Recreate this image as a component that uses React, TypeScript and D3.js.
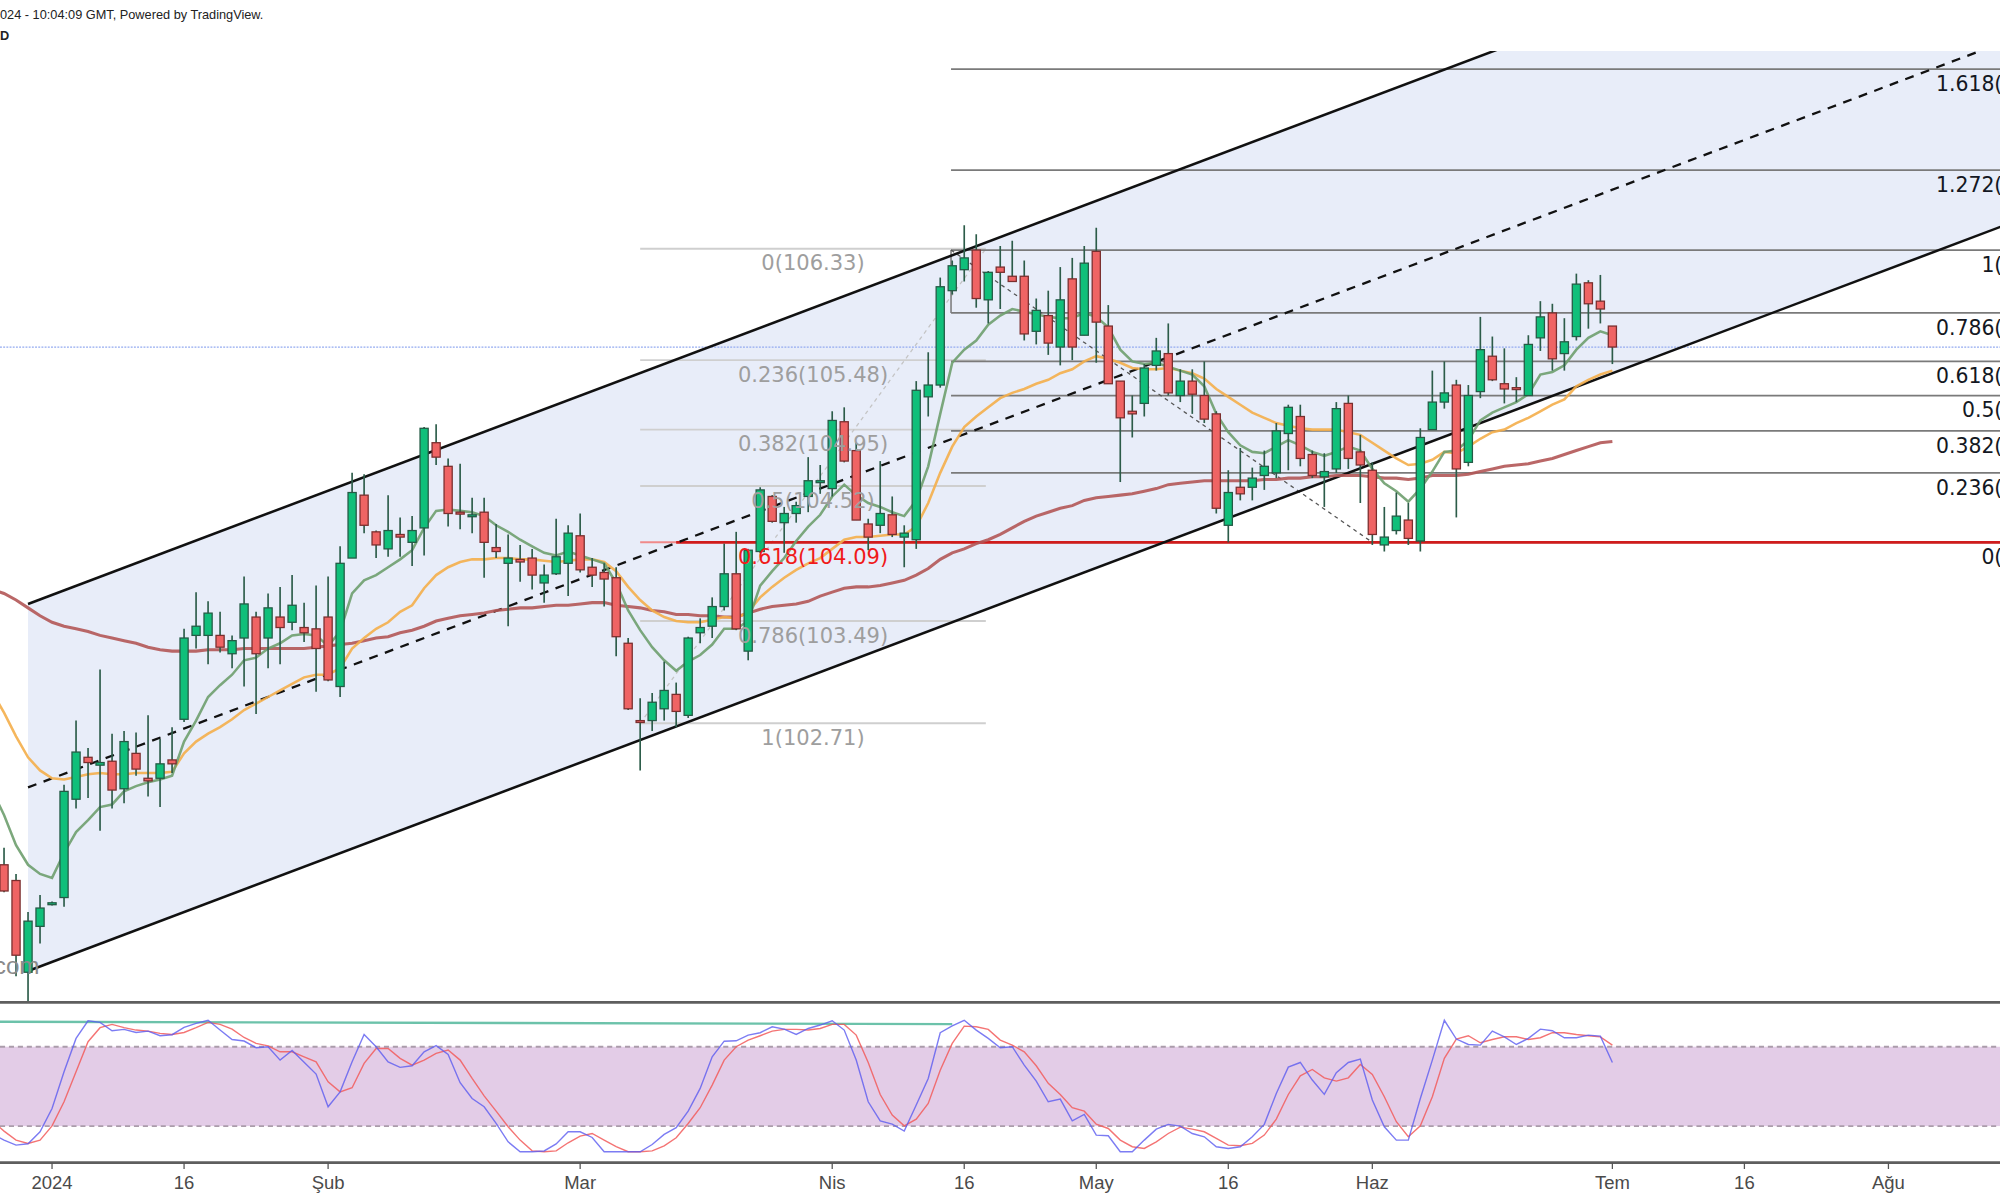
import React from 'react';
import * as d3 from 'd3';

const W = 1568;
const H = 940.8;

// daily bars, index 0 = first bar of 2024
const FIRST = -4;
const opens = [
  101.63, 101.51, 100.81, 101.16, 101.33, 101.38, 102.13, 102.45, 102.39, 102.42,
  102.21, 102.48, 102.29, 102.29, 102.43, 102.74, 103.38, 103.38, 103.38, 103.24,
  103.36, 103.52, 103.36, 103.52, 103.48, 103.44, 103.43, 103.52, 102.99, 103.97,
  104.45, 104.17, 104.04, 104.15, 104.09, 104.2, 104.85, 104.67, 104.32, 104.29,
  104.32, 104.05, 103.93, 103.96, 103.97, 103.78, 103.85, 103.93, 104.14, 103.9,
  103.86, 103.82, 103.32, 102.73, 102.73, 102.82, 102.93, 102.77, 103.4, 103.45,
  103.6, 103.85, 103.26, 104.02, 104.44, 104.24, 104.31, 104.44, 104.55, 104.5,
  105.01, 104.79, 104.23, 104.22, 104.3, 104.13, 104.11, 105.2, 105.29, 106.01,
  106.17, 106.32, 105.94, 106.19, 106.12, 106.12, 105.7, 105.82, 105.58, 106.1,
  105.67, 106.31, 105.74, 105.32, 105.09, 105.15, 105.44, 105.53, 105.21, 105.32,
  105.21, 105.07, 104.22, 104.51, 104.51, 104.6, 104.62, 104.92, 105.05, 104.76,
  104.59, 104.65, 105.15, 104.78, 104.64, 104.07, 104.18, 104.26, 104.1, 104.95,
  105.16, 105.29, 104.7, 105.24, 105.51, 105.3, 105.27, 105.21, 105.65, 105.84,
  105.53, 105.66, 106.07, 105.93, 105.74,
];
const highs = [
  101.76, 101.56, 101.27, 101.4, 101.35, 102.24, 102.73, 102.52, 103.12, 102.63,
  102.65, 102.64, 102.77, 102.59, 102.68, 103.43, 103.71, 103.64, 103.56, 103.38,
  103.83, 103.56, 103.7, 103.75, 103.84, 103.63, 103.76, 103.83, 104.06, 104.62,
  104.61, 104.18, 104.45, 104.28, 104.29, 104.97, 104.99, 104.73, 104.69, 104.43,
  104.43, 104.23, 104.15, 104.07, 104.04, 103.92, 104.27, 104.22, 104.31, 103.97,
  103.93, 103.9, 103.36, 102.9, 102.94, 103.18, 103.02, 103.37, 103.51, 103.67,
  104.08, 104.17, 104.04, 104.51, 104.45, 104.36, 104.4, 104.74, 104.68, 105.09,
  105.12, 104.85, 104.27, 104.71, 104.44, 104.22, 105.32, 105.54, 106.11, 106.24,
  106.51, 106.44, 106.16, 106.35, 106.39, 106.24, 105.95, 106.01, 106.19, 106.26,
  106.35, 106.49, 105.9, 105.32, 105.21, 105.45, 105.65, 105.76, 105.41, 105.41,
  105.47, 105.09, 104.64, 104.81, 104.66, 104.79, 105.0, 105.14, 105.14, 104.79,
  104.77, 105.16, 105.21, 104.91, 104.7, 104.36, 104.47, 104.39, 104.96, 105.4,
  105.47, 105.33, 105.29, 105.81, 105.66, 105.57, 105.35, 105.67, 105.93, 105.91,
  105.8, 106.14, 106.09, 106.13, 105.74,
];
const lows = [
  101.42, 100.78, 100.55, 101.03, 101.32, 101.31, 102.06, 102.14, 101.89, 102.06,
  102.1, 102.31, 102.15, 102.07, 102.33, 102.72, 103.28, 103.16, 103.25, 103.13,
  102.99, 102.78, 103.13, 103.16, 103.42, 103.33, 102.95, 103.03, 102.91, 103.97,
  104.16, 103.97, 103.98, 103.98, 103.91, 103.99, 104.68, 104.21, 104.19, 104.16,
  103.82, 103.97, 103.45, 103.79, 103.73, 103.63, 103.84, 103.68, 103.86, 103.75,
  103.6, 103.22, 102.81, 102.35, 102.65, 102.73, 102.68, 102.75, 103.32, 103.36,
  103.57, 103.42, 103.19, 104.01, 104.24, 104.01, 104.24, 104.32, 104.46, 104.44,
  104.7, 104.26, 104.03, 104.16, 104.13, 103.9, 104.04, 105.05, 105.27, 105.98,
  106.08, 105.88, 105.76, 105.87, 106.08, 105.63, 105.6, 105.52, 105.44, 105.48,
  105.67, 105.46, 105.3, 104.55, 104.89, 105.05, 105.4, 105.21, 105.16, 105.07,
  105.0, 104.31, 104.09, 104.41, 104.41, 104.49, 104.58, 104.64, 104.67, 104.58,
  104.36, 104.62, 104.65, 104.39, 104.07, 104.02, 104.15, 104.07, 104.02, 104.95,
  105.11, 104.28, 104.67, 105.19, 105.32, 105.15, 105.16, 105.21, 105.55, 105.4,
  105.4, 105.63, 105.72, 105.76, 105.45,
];
const closes = [
  101.43, 100.94, 101.2, 101.3, 101.34, 102.19, 102.49, 102.41, 102.41, 102.2,
  102.57, 102.36, 102.27, 102.4, 102.4, 103.36, 103.45, 103.55, 103.29, 103.34,
  103.62, 103.24, 103.59, 103.44, 103.61, 103.4, 103.28, 103.04, 103.93, 104.47,
  104.22, 104.07, 104.18, 104.13, 104.18, 104.96, 104.74, 104.31, 104.31, 104.3,
  104.09, 104.02, 103.97, 103.94, 103.84, 103.84, 103.98, 104.16, 103.88, 103.84,
  103.81, 103.37, 102.82, 102.72, 102.87, 102.96, 102.8, 103.36, 103.44, 103.6,
  103.85, 103.43, 104.03, 104.49, 104.25, 104.31, 104.37, 104.56, 104.56, 105.02,
  104.71, 104.26, 104.13, 104.31, 104.15, 104.16, 105.25, 105.29, 106.04, 106.2,
  106.26, 105.95, 106.15, 106.15, 106.08, 105.68, 105.86, 105.61, 105.94, 105.58,
  106.22, 105.77, 105.3, 105.04, 105.07, 105.42, 105.55, 105.23, 105.32, 105.22,
  105.03, 104.35, 104.47, 104.46, 104.58, 104.67, 104.94, 105.12, 104.73, 104.6,
  104.63, 105.11, 104.73, 104.68, 104.15, 104.13, 104.29, 104.12, 104.89, 105.16,
  105.23, 104.65, 105.21, 105.56, 105.33, 105.26, 105.26, 105.6, 105.81, 105.49,
  105.62, 106.06, 105.91, 105.87, 105.58,
];

// moving averages, index -5 .. 130
const MA_FIRST = -5;
const maFast = [
  102.2, 102.01, 101.78, 101.63, 101.56, 101.53, 101.72, 101.88, 101.97, 102.07,
  102.09, 102.19, 102.23, 102.26, 102.28, 102.31, 102.57, 102.73, 102.91, 103.0,
  103.08, 103.19, 103.21, 103.28, 103.32, 103.38, 103.39, 103.38, 103.3, 103.41,
  103.7, 103.8, 103.84, 103.9, 103.96, 104.03, 104.2, 104.33, 104.34, 104.33,
  104.32, 104.29, 104.22, 104.17, 104.11, 104.06, 104.01, 103.99, 104.02, 103.99,
  103.96, 103.93, 103.78, 103.57, 103.42, 103.29, 103.19, 103.11, 103.18, 103.23,
  103.31, 103.43, 103.43, 103.49, 103.76, 103.87, 103.97, 104.1, 104.21, 104.3,
  104.44, 104.53, 104.45, 104.39, 104.36, 104.32, 104.29, 104.41, 104.67, 105.07,
  105.46, 105.56, 105.63, 105.75, 105.82, 105.87, 105.85, 105.83, 105.81, 105.8,
  105.8, 105.84, 105.81, 105.73, 105.56, 105.47, 105.45, 105.46, 105.43, 105.4,
  105.37, 105.28, 105.07, 104.93, 104.83, 104.78, 104.77, 104.82, 104.87, 104.83,
  104.78, 104.75, 104.78, 104.82, 104.79, 104.65, 104.54, 104.48, 104.4, 104.5,
  104.63, 104.78, 104.79, 104.87, 105.02, 105.08, 105.12, 105.16, 105.22, 105.37,
  105.39, 105.44, 105.56, 105.65, 105.7, 105.67,
];
const maMid = [
  102.95, 102.79, 102.61, 102.45, 102.35, 102.29, 102.28, 102.3, 102.32, 102.33,
  102.32, 102.32, 102.33, 102.33, 102.33, 102.34, 102.48, 102.57, 102.63, 102.68,
  102.74, 102.81, 102.86, 102.91, 102.96, 103.01, 103.06, 103.08, 103.08, 103.13,
  103.28, 103.36, 103.43, 103.48, 103.56, 103.61, 103.74, 103.84, 103.9, 103.94,
  103.96, 103.96, 103.97, 103.97, 103.96, 103.96, 103.95, 103.94, 103.95, 103.96,
  103.96, 103.94, 103.87, 103.75, 103.65, 103.57, 103.52, 103.49, 103.48, 103.48,
  103.5, 103.52, 103.51, 103.56, 103.67, 103.75, 103.82, 103.88, 103.93, 103.97,
  104.04, 104.11, 104.13, 104.13, 104.14, 104.15, 104.15, 104.21, 104.39, 104.62,
  104.82, 104.97, 105.05, 105.12, 105.19, 105.23, 105.26, 105.3, 105.33, 105.38,
  105.41, 105.47, 105.51, 105.49, 105.46, 105.42, 105.41, 105.41, 105.42, 105.4,
  105.38, 105.34, 105.26, 105.2, 105.14, 105.08, 105.04, 105.0, 104.98, 104.96,
  104.95, 104.95, 104.95, 104.93, 104.91, 104.85, 104.79, 104.73, 104.68, 104.69,
  104.72, 104.78, 104.77, 104.82, 104.88, 104.93, 104.95, 105.0, 105.04, 105.09,
  105.14, 105.18, 105.28, 105.33, 105.37, 105.4,
];
const maSlow = [
  103.73, 103.7, 103.65, 103.59, 103.53, 103.48, 103.45, 103.43, 103.41, 103.38,
  103.36, 103.34, 103.32, 103.29, 103.27, 103.26, 103.26, 103.26, 103.27, 103.27,
  103.27, 103.28, 103.28, 103.28, 103.28, 103.28, 103.28, 103.29, 103.3, 103.31,
  103.32, 103.34, 103.36, 103.37, 103.4, 103.42, 103.45, 103.49, 103.51, 103.53,
  103.54, 103.55, 103.57, 103.58, 103.59, 103.59, 103.6, 103.61, 103.61, 103.62,
  103.63, 103.63, 103.61, 103.6, 103.59, 103.57, 103.56, 103.54, 103.54, 103.53,
  103.53, 103.52, 103.52, 103.55, 103.58, 103.6, 103.61, 103.62, 103.64, 103.68,
  103.71, 103.74, 103.75, 103.75, 103.76, 103.78, 103.8, 103.84, 103.89, 103.96,
  104.01, 104.04, 104.08, 104.11, 104.15, 104.2, 104.25, 104.29, 104.32, 104.35,
  104.37, 104.41, 104.43, 104.44, 104.45, 104.46, 104.48, 104.5, 104.53, 104.54,
  104.55, 104.56, 104.56, 104.56, 104.56, 104.56, 104.57, 104.57, 104.58, 104.58,
  104.59, 104.59, 104.6, 104.6, 104.6, 104.59, 104.58, 104.58, 104.57, 104.58,
  104.6, 104.6, 104.6, 104.61, 104.63, 104.65, 104.67, 104.68, 104.69, 104.71,
  104.73, 104.76, 104.79, 104.82, 104.85, 104.86,
];

// stochastic %K / %D, index -5 .. 130
const ST_FIRST = -5;
const stochK = [
  14, 9.4, 5.6, 6.6, 15.7, 33.3, 61.1, 86.3, 99.6, 98.4,
  92.1, 93.1, 90.8, 91.8, 88.3, 89.1, 94.6, 97.7, 100, 92.6,
  85.5, 84.3, 79.3, 80.0, 69.9, 77.2, 68.2, 59.3, 34.6, 45.9,
  68.6, 89.3, 80.0, 68.6, 64.4, 65.6, 76.2, 80.8, 74.2, 52.8,
  40.9, 34.6, 22.0, 8.1, 0.6, 0.6, 1.2, 6.5, 15.7, 15.7,
  11.4, 0.6, 0.6, 0.6, 0.6, 6.1, 13.7, 18.8, 31.3, 48.5,
  72.4, 84.2, 84.5, 88.8, 90.6, 95.1, 93.3, 89.3, 93.8, 96.4,
  99.6, 92.6, 69.9, 38.4, 24.0, 21.5, 16.2, 35.9, 56.0, 90.6,
  95.7, 100, 92.6, 86.3, 79.2, 80.0, 66.1, 54.0, 38.4, 40.4,
  24.0, 28.8, 13.2, 12.7, 0.6, 0.6, 9.4, 17.7, 21.3, 20.0,
  14.4, 11.9, 4.4, 3.1, 4.4, 11.9, 21.3, 44.7, 64.6, 68.1,
  54.8, 44.0, 60.4, 68.1, 70.6, 39.7, 19.5, 9.4, 9.4, 40.9,
  69.9, 100, 85.8, 81.7, 81.2, 91.8, 87.5, 81.7, 86.3, 93.3,
  92.1, 86.8, 86.8, 88.8, 88.0, 68.1,
];
const stochD = [
  24, 16.2, 9.4, 6.9, 9.4, 20.2, 38.4, 61.1, 83.8, 94.4,
  96.9, 94.4, 92.6, 91.8, 90.1, 89.3, 90.8, 94.4, 98.4, 96.9,
  93.3, 87.0, 82.5, 80.7, 76.2, 76.2, 72.4, 68.6, 53.5, 45.9,
  49.0, 67.4, 78.7, 78.7, 71.2, 66.1, 69.9, 75.0, 77.5, 69.9,
  56.0, 42.9, 31.3, 19.5, 9.4, 1.3, 0.6, 1.3, 7.4, 12.4,
  14.4, 9.4, 4.4, 0.6, 0.6, 1.3, 5.1, 11.2, 22.0, 33.9,
  51.0, 69.9, 80.0, 85.0, 88.3, 91.8, 93.1, 93.1, 92.6, 93.8,
  96.9, 96.9, 88.8, 68.1, 43.9, 28.3, 20.2, 25.3, 37.1, 62.3,
  82.5, 95.6, 95.1, 93.1, 85.0, 81.2, 76.2, 65.6, 52.3, 43.9,
  33.9, 31.3, 21.5, 18.2, 9.4, 4.4, 3.1, 8.1, 14.4, 19.2,
  17.7, 15.7, 10.7, 5.6, 5.1, 6.9, 13.2, 25.3, 43.9, 58.0,
  62.8, 56.5, 54.0, 56.5, 66.6, 59.0, 42.2, 23.3, 11.9, 20.2,
  42.2, 71.2, 85.8, 88.3, 83.0, 85.5, 87.5, 87.5, 85.5, 86.8,
  90.6, 90.6, 89.3, 88.3, 87.5, 81.2,
];
const stochTrendIdx = [-5, 75];
const stochTrendVal = [98.9, 97.1];

const tickIndex = [0, 11, 23, 44, 65, 76, 87, 98, 110, 130, 141, 153];
const tickLabels = ['2024', '16', 'Şub', 'Mar', 'Nis', '16', 'May', '16', 'Haz', 'Tem', '16', 'Ağu'];

// fib retracement (left) and trend-based extension (right)
const retraceLevels = ['0', '0.236', '0.382', '0.5', '0.618', '0.786', '1'];
const retracePrices = [106.33, 105.48, 104.95, 104.52, 104.09, 103.49, 102.71];
const retraceSpan = [49, 77.8];
const extLevels = ['1.618', '1.272', '1', '0.786', '0.618', '0.5', '0.382', '0.236', '0'];
const extPrices = [107.7, 106.93, 106.32, 105.84, 105.47, 105.21, 104.94, 104.62, 104.09];
const extStart = 74.9;
const extSwingIdx = [74.9, 110];
const redRayStart = 52;
const redRayPrice = 104.09;

// regression channel: lower line anchors, upper = lower + width
const channelIdx = [-2, 130];
const channelLow = [100.82, 105.38];
const channelWidth = 2.8;
const lastPrice = 105.58;

const App = () => {
  const x = d3.scaleLinear().domain([0, 130]).range([40.8, 1264.1]);
  const y = d3.scaleLinear().domain([102.71, 106.33]).range([567, 195]);
  const ys = d3.scaleLinear().domain([0, 100]).range([903.6, 799.9]);

  const PANE_TOP = 40;
  const PANE_BOT = 785.8;
  const ST_BOT = 911.5;

  const slope = (channelLow[1] - channelLow[0]) / (channelIdx[1] - channelIdx[0]);
  const low = (i: number) => channelLow[0] + (i - channelIdx[0]) * slope;
  const iEnd = x.invert(W + 40);
  const i0 = channelIdx[0];

  const maLine = d3
    .line<number>()
    .x((_, k) => x(MA_FIRST + k))
    .y((d) => y(d));
  const stLine = d3
    .line<number>()
    .x((_, k) => x(ST_FIRST + k))
    .y((d) => ys(d));

  const fillPts = [
    [x(i0), y(low(i0))],
    [x(iEnd), y(low(iEnd))],
    [x(iEnd), y(low(iEnd) + channelWidth)],
    [x(i0), y(low(i0) + channelWidth)],
  ]
    .map((p) => p.join(','))
    .join(' ');

  const labelFont = 'DejaVu Sans, Verdana, sans-serif';
  const rx0 = x(retraceSpan[0]);
  const rx1 = x(retraceSpan[1]);

  return (
    <svg
      width={2000}
      height={1200}
      viewBox={`0 0 ${W} ${H}`}
      style={{ position: 'absolute', left: 0, top: 0, background: '#fff' }}
    >
      <defs>
        <clipPath id="main">
          <rect x={0} y={PANE_TOP} width={W} height={PANE_BOT - PANE_TOP} />
        </clipPath>
        <clipPath id="stoch">
          <rect x={0} y={PANE_BOT} width={W} height={ST_BOT - PANE_BOT} />
        </clipPath>
      </defs>
      <rect x={0} y={0} width={W} height={H} fill="#fff" />

      <g clipPath="url(#main)">
        <polygon points={fillPts} fill="#e8edf9" />

        {/* last price line */}
        <line x1={0} x2={W} y1={y(lastPrice)} y2={y(lastPrice)} stroke="#93aaf0" strokeWidth={1} strokeDasharray="1.5,1" />

        {/* left fib retracement */}
        {retracePrices.map((p, k) => (
          <line
            key={'rl' + k}
            x1={rx0}
            x2={rx1}
            y1={y(p)}
            y2={y(p)}
            stroke={k === 4 ? '#f08a8a' : '#cfcfcf'}
            strokeWidth={1.5}
          />
        ))}
        <line
          x1={rx0}
          y1={y(retracePrices[6])}
          x2={rx1}
          y2={y(retracePrices[0])}
          stroke="#c4c4c4"
          strokeWidth={1}
          strokeDasharray="3,3"
        />

        {/* right fib extension */}
        {extPrices.map((p, k) => (
          <line key={'el' + k} x1={x(extStart)} x2={W} y1={y(p)} y2={y(p)} stroke="#7a7a7a" strokeWidth={1.4} />
        ))}
        <line x1={x(extStart)} x2={x(extStart)} y1={y(extPrices[2])} y2={y(extPrices[3])} stroke="#7a7a7a" strokeWidth={1.2} />
        <line
          x1={x(extSwingIdx[0])}
          y1={y(extPrices[2])}
          x2={x(extSwingIdx[1])}
          y2={y(extPrices[8])}
          stroke="#555"
          strokeWidth={1}
          strokeDasharray="3,3"
        />
        <line x1={x(redRayStart)} x2={W} y1={y(redRayPrice)} y2={y(redRayPrice)} stroke="#d01c1c" strokeWidth={2.2} />

        {/* channel */}
        <line x1={x(i0)} y1={y(low(i0))} x2={x(iEnd)} y2={y(low(iEnd))} stroke="#111" strokeWidth={2} />
        <line
          x1={x(i0)}
          y1={y(low(i0) + channelWidth)}
          x2={x(iEnd)}
          y2={y(low(iEnd) + channelWidth)}
          stroke="#111"
          strokeWidth={2}
        />
        <line
          x1={x(i0)}
          y1={y(low(i0) + channelWidth / 2)}
          x2={x(iEnd)}
          y2={y(low(iEnd) + channelWidth / 2)}
          stroke="#111"
          strokeWidth={1.8}
          strokeDasharray="7,6"
        />

        {/* moving averages */}
        <path d={maLine(maSlow) || ''} fill="none" stroke="#b25656" strokeWidth={2.4} strokeOpacity={0.9} />
        <path d={maLine(maMid) || ''} fill="none" stroke="#f4ae4a" strokeWidth={2} strokeOpacity={0.9} />
        <path d={maLine(maFast) || ''} fill="none" stroke="#6e9e6e" strokeWidth={2} strokeOpacity={0.9} />

        {/* candles */}
        {opens.map((o, k) => {
          const c = closes[k];
          const up = c >= o;
          const cx = x(FIRST + k);
          const top = y(Math.max(o, c));
          const h = Math.max(1.5, Math.abs(y(o) - y(c)));
          return (
            <g key={'c' + k}>
              <line x1={cx} x2={cx} y1={y(highs[k])} y2={y(lows[k])} stroke="#2c5c49" strokeWidth={1.3} />
              <rect
                x={cx - 3.2}
                y={top}
                width={6.4}
                height={h}
                fill={up ? '#10bf7a' : '#ef6464'}
                stroke={up ? '#245a45' : '#7a2e2e'}
                strokeWidth={1}
              />
            </g>
          );
        })}

        {/* fib labels */}
        {retracePrices.map((p, k) => (
          <text
            key={'rt' + k}
            x={(rx0 + rx1) / 2}
            y={y(p) + 17}
            textAnchor="middle"
            fontFamily={labelFont}
            fontSize={16.5}
            fill={k === 4 ? '#f01a1a' : '#9e9e9e'}
          >
            {`${retraceLevels[k]}(${p.toFixed(2)})`}
          </text>
        ))}
        {extPrices.map((p, k) => (
          <text
            key={'et' + k}
            x={1632}
            y={y(p) + 17}
            textAnchor="end"
            fontFamily={labelFont}
            fontSize={16}
            fill="#131722"
          >
            {`${extLevels[k]}(${p.toFixed(2)})`}
          </text>
        ))}

        <text x={31} y={764} textAnchor="end" fontFamily="Liberation Sans, Arial, sans-serif" fontSize={19} fill="#8a8a8a">
          com
        </text>
      </g>

      {/* stochastic pane */}
      <g clipPath="url(#stoch)">
        <rect x={0} y={ys(80)} width={W} height={ys(20) - ys(80)} fill="#e3cce7" />
        <line x1={0} x2={W} y1={ys(80)} y2={ys(80)} stroke="#ab9cab" strokeWidth={1.5} strokeDasharray="4,3" />
        <line x1={0} x2={W} y1={ys(20)} y2={ys(20)} stroke="#ab9cab" strokeWidth={1.5} strokeDasharray="4,3" />
        <line
          x1={x(stochTrendIdx[0])}
          y1={ys(stochTrendVal[0])}
          x2={x(stochTrendIdx[1])}
          y2={ys(stochTrendVal[1])}
          stroke="#6cc2aa"
          strokeWidth={1.8}
        />
        <path d={stLine(stochD) || ''} fill="none" stroke="#f25c5c" strokeWidth={1.1} strokeOpacity={0.85} />
        <path d={stLine(stochK) || ''} fill="none" stroke="#5b5bf0" strokeWidth={1.1} strokeOpacity={0.8} />
      </g>

      {/* pane borders */}
      <line x1={0} x2={W} y1={PANE_BOT} y2={PANE_BOT} stroke="#5e5e5e" strokeWidth={2.2} />
      <line x1={0} x2={W} y1={ST_BOT} y2={ST_BOT} stroke="#5e5e5e" strokeWidth={2.2} />

      {/* time axis */}
      {tickIndex.map((t, k) => (
        <g key={'t' + k}>
          <line x1={x(t)} x2={x(t)} y1={ST_BOT} y2={ST_BOT + 5} stroke="#555" strokeWidth={1} />
          <text
            x={x(t)}
            y={932}
            textAnchor="middle"
            fontFamily="Liberation Sans, Arial, sans-serif"
            fontSize={14.5}
            fill="#4a4a4a"
          >
            {tickLabels[k]}
          </text>
        </g>
      ))}

      {/* header */}
      <text x={0} y={15} fontFamily="Liberation Sans, Arial, sans-serif" fontSize={10} fill="#222">
        024 - 10:04:09 GMT, Powered by TradingView.
      </text>
      <text x={0} y={31} fontFamily="Liberation Sans, Arial, sans-serif" fontSize={10} fontWeight="bold" fill="#222">
        D
      </text>
    </svg>
  );
};

export default App;
